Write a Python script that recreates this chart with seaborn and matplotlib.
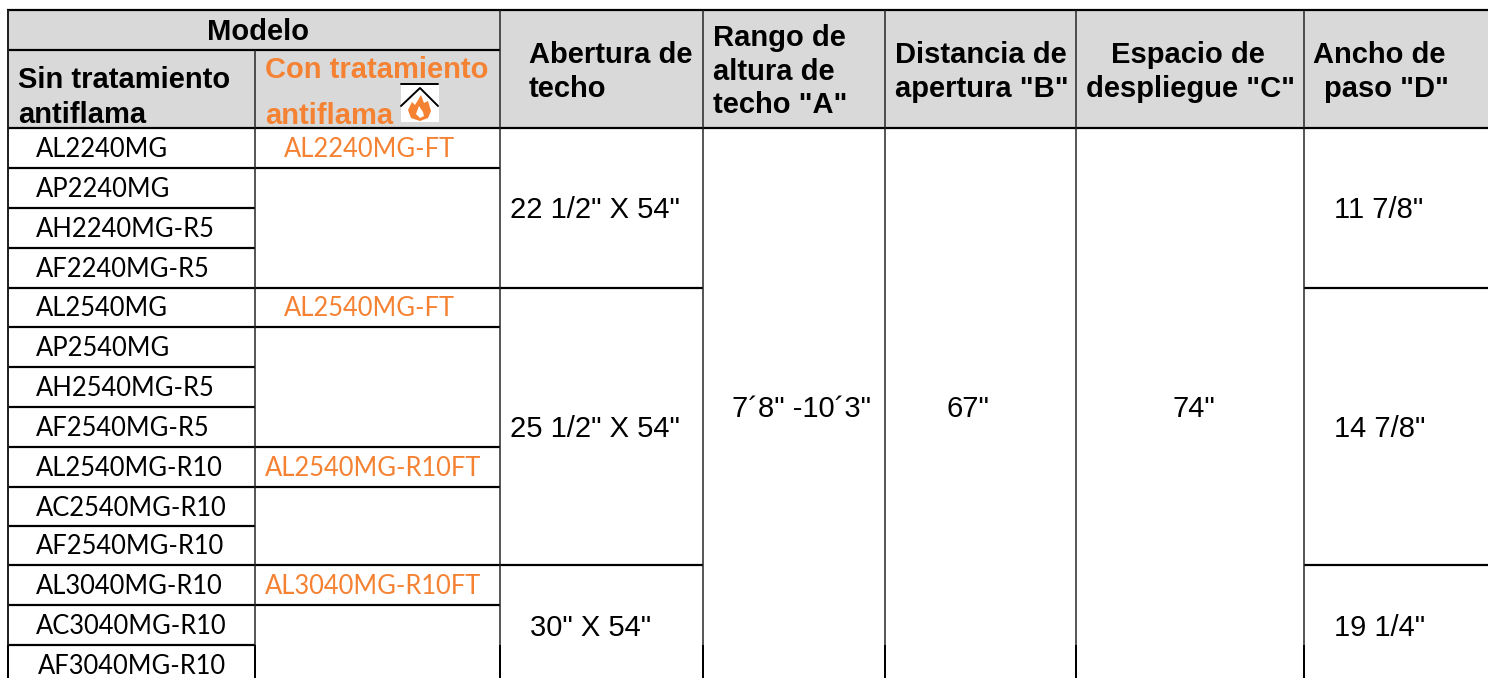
import numpy as np
import seaborn as sns
import matplotlib
matplotlib.use("Agg")
import matplotlib.pyplot as plt
from matplotlib.colors import ListedColormap
from matplotlib.patches import Polygon, Rectangle

# table content
plain_models = ["AL2240MG", "AP2240MG", "AH2240MG-R5", "AF2240MG-R5",
                "AL2540MG", "AP2540MG", "AH2540MG-R5", "AF2540MG-R5",
                "AL2540MG-R10", "AC2540MG-R10", "AF2540MG-R10",
                "AL3040MG-R10", "AC3040MG-R10", "AF3040MG-R10"]
ft_models = {0: "AL2240MG-FT", 4: "AL2540MG-FT", 8: "AL2540MG-R10FT", 11: "AL3040MG-R10FT"}
ceiling_openings = ['22 1/2" X 54"', '25 1/2" X 54"', '30" X 54"']
step_widths = ['11 7/8"', '14 7/8"', '19 1/4"']
height_range = '7´8" -10´3"'
opening_distance = '67"'
deploy_space = '74"'

# grid in pixels
col_x = [8, 255, 500, 703, 885, 1076, 1304, 1488]
row_y = [128, 168, 208, 248, 288, 327, 367, 407, 447, 487, 526, 565, 605, 645, 678]
head_top, head_mid = 10, 50
orange = "#F58233"

sns.set_theme(style="white")
fig = plt.figure(figsize=(14.88, 6.78), dpi=100)
ax = fig.add_axes([0, 0, 1, 1])

# header band, one cell per pixel
fill = np.zeros((678, 1488))
fill[head_top:row_y[0], col_x[0]:] = 1
sns.heatmap(fill, ax=ax, cmap=ListedColormap(["white", "#D9D9D9"]), vmin=0, vmax=1,
            cbar=False, xticklabels=False, yticklabels=False)
ax.set_xlim(0, 1488)
ax.set_ylim(678, 0)


def hline(y, x0, x1, lw=2.2):
    ax.plot([x0, x1], [y, y], color="black", lw=lw * 0.72, solid_capstyle="butt")


def vline(x, y0, y1, lw=1.5, color="#222222"):
    ax.plot([x, x], [y0, y1], color=color, lw=lw * 0.72, solid_capstyle="butt")


# horizontal rules
hline(head_top, col_x[0] - 1, 1488)
hline(head_mid, col_x[0], col_x[2])
hline(row_y[0], col_x[0], 1488)
for y in row_y[1:-1]:
    hline(y, col_x[0], col_x[1])
for i in [1, 4, 5, 8, 9, 11, 12]:
    hline(row_y[i], col_x[1], col_x[2])
for i in [4, 11]:
    hline(row_y[i], col_x[2], col_x[3])
    hline(row_y[i], col_x[6], 1488)

# vertical rules
for x in col_x[:-1]:
    top = head_mid if x == col_x[1] else head_top
    vline(x, top, 645, lw=2.0 if x == col_x[0] else 1.5)
    vline(x, 645, 678, lw=2.0, color="black")

head = dict(family="Liberation Sans", weight="bold", fontsize=21, va="center", color="black")
ax.text(258, 32, "Modelo", ha="center", **head)
ax.text(18, 80, "Sin tratamiento", **head)
ax.text(18, 115, "antiflama", **head)
ax.text(265, 70, "Con tratamiento", **{**head, "color": orange})
ax.text(265, 116, "antiflama", **{**head, "color": orange})
ax.text(529, 55, "Abertura de", **head)
ax.text(529, 89, "techo", **head)
ax.text(713, 38, "Rango de", **head)
ax.text(713, 72, "altura de", **head)
ax.text(713, 105, 'techo "A"', **head)
ax.text(895, 55, "Distancia de", **head)
ax.text(895, 89, 'apertura "B"', **head)
ax.text(1188, 55, "Espacio de", ha="center", **head)
ax.text(1191, 89, 'despliegue "C"', ha="center", **head)
ax.text(1313, 55, "Ancho de", **head)
ax.text(1324, 89, 'paso "D"', **head)

# fire rating icon
ax.add_patch(Rectangle((401, 84), 38, 38, facecolor="white", edgecolor="none", zorder=3))
ax.plot([401, 438], [84, 84], color="black", lw=1.4, zorder=4)
ax.plot([401, 420, 438], [106, 88, 106], color="black", lw=1.4, zorder=4)
flame = [(420, 121), (411, 118), (408, 110), (412, 102), (415, 105), (421, 95),
         (424, 103), (428, 101), (431, 111), (428, 118)]
ax.add_patch(Polygon(flame, closed=True, facecolor=orange, edgecolor="none", zorder=4))
inner = [(420, 118), (416, 114), (419, 106), (423, 112), (424, 116)]
ax.add_patch(Polygon(inner, closed=True, facecolor="white", edgecolor="none", zorder=5))

body = dict(family="Lato", fontsize=18.4, va="center")
for i, name in enumerate(plain_models):
    x = 38 if i == len(plain_models) - 1 else 36
    shift = 5.5 if i == len(plain_models) - 1 else 1.5
    ax.text(x, (row_y[i] + row_y[i + 1]) / 2 + shift, name, color="black", **body)
for i, name in ft_models.items():
    x = 284 if name.endswith("MG-FT") else 265
    ax.text(x, (row_y[i] + row_y[i + 1]) / 2 + 1.5, name, color=orange, **body)

value = dict(family="Liberation Sans", fontsize=21, va="center", color="black")
for text, x, y in zip(ceiling_openings, [510, 510, 530], [210, 429, 628]):
    ax.text(x, y, text, **value)
for text, y in zip(step_widths, [210, 429, 628]):
    ax.text(1334, y, text, **value)
ax.text(732, 409, height_range, **value)
ax.text(947, 409, opening_distance, **value)
ax.text(1172, 409, deploy_space, **value)

fig.savefig("out.png", dpi=100)
